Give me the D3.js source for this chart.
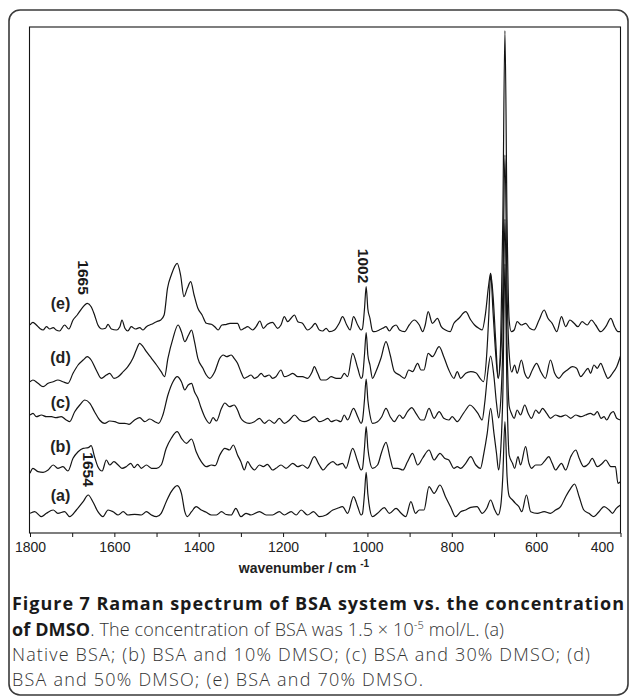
<!DOCTYPE html>
<html>
<head>
<meta charset="utf-8">
<script src="https://cdn.jsdelivr.net/npm/d3@7"></script>
<style>
  html, body { margin: 0; padding: 0; background: #fff; }
  svg { display: block; }
</style>
</head>
<body>
<svg id="fig" width="629" height="696"></svg>
<script>
// Raman spectra of BSA at increasing DMSO content: [wavenumber (cm-1), relative intensity]
const specA = [[1800,2.7],[1789,4.3],[1773,-0.7],[1761,2.7],[1745,6],[1734,2.7],[1718,4.3],[1706,-0.7],[1690,6],[1674,14.3],[1662,21],[1651,14.3],[1639,4.3],[1627,-0.7],[1615,6],[1603,4.3],[1591,1],[1579,4.3],[1568,1],[1552,1.7],[1536,1],[1524,4.3],[1512,1],[1500,-0.7],[1489,2.7],[1477,14.3],[1465,24.3],[1451,30.3],[1441,22.7],[1433,4.3],[1427,-0.7],[1417,4.3],[1406,9.3],[1394,6],[1382,3.7],[1370,1],[1358,1],[1346,4.3],[1335,1.5],[1323,1],[1312,7.7],[1300,-0.7],[1288,2.7],[1276,1],[1256,4.3],[1240,1],[1225,1],[1209,4.3],[1197,1],[1181,4.3],[1169,1],[1157,6],[1142,1],[1128,4.3],[1114,-0.7],[1098,1],[1082,6],[1071,7.7],[1059,9.3],[1047,2.7],[1033,19.3],[1023,9.3],[1015,1],[1012,2],[1007,22],[1003,43.7],[999,22],[994,6],[988,-0.7],[976,2.7],[960,8.3],[948,2.7],[932,7.7],[920,2.7],[909,-0.7],[897,14.3],[886,2.7],[877,6],[866,6],[854,29.3],[842,22.7],[828,31],[815,19.3],[803,9.3],[791,-0.7],[779,4.3],[767,6],[755,8.7],[740,9.3],[728,2.7],[717,7.7],[708,16],[698,6],[690,1],[684,10],[679,40],[674,94.3],[669,40],[664,20],[656,16],[649,12.7],[641,9.3],[634,4.3],[623,21],[613,4.3],[597,2.7],[581,4.3],[566,2.7],[554,6],[542,9.3],[530,19.3],[518,27.7],[509,32],[498,19.3],[487,6],[475,2.7],[463,-0.7],[451,4.3],[439,9.3],[427,6],[419,2.7],[410,7.7],[400,11]];

const specB = [[1800,-3.3],[1793,1.7],[1781,-1.7],[1769,-2.3],[1757,0],[1745,5],[1734,1.7],[1722,3.3],[1710,-1],[1698,11.7],[1686,18.3],[1674,21.7],[1662,22.3],[1655,24.3],[1647,13.3],[1639,3.3],[1629,-1],[1619,10],[1611,5],[1601,8.3],[1591,5],[1582,1.7],[1572,3.3],[1561,6.7],[1553,2.3],[1545,5.7],[1536,1.7],[1524,5],[1512,1.7],[1500,1.7],[1489,5],[1477,21.7],[1465,31.7],[1451,38.3],[1441,31.7],[1429,26.7],[1417,31],[1406,18.3],[1394,8.3],[1382,3.3],[1370,5],[1361,4.3],[1350,15],[1338,21.7],[1327,20],[1318,25],[1308,15],[1300,8.3],[1292,0],[1284,8.3],[1276,3.3],[1268,0],[1256,5],[1247,3.3],[1237,5.7],[1225,0],[1217,1.7],[1205,5],[1193,1.7],[1177,6.7],[1165,3.3],[1154,5],[1142,1.7],[1126,13.3],[1114,5],[1105,0],[1094,5],[1082,8.3],[1071,5],[1059,6.7],[1051,1.7],[1035,21.7],[1023,8.3],[1015,0],[1012,1],[1007,22],[1003,43.3],[999,22],[994,8],[988,1.7],[976,5],[966,18.3],[956,27.7],[946,11.7],[939,1.7],[928,1.7],[916,0],[905,8.3],[893,16.7],[881,5],[869,12],[854,20],[842,10],[828,16.7],[817,11.7],[807,10],[795,1.7],[787,3.3],[779,1.7],[767,6.7],[755,13.3],[743,5],[732,1.7],[724,16.7],[716,36.7],[708,61.7],[700,36.7],[694,16.7],[689,0],[684,20],[679,75],[674,206],[669,75],[664,15],[656,6.7],[651,1.7],[643,13.3],[637,5],[625,23.3],[617,6.7],[611,1.7],[601,5],[589,5],[581,8.3],[570,13.3],[562,6.7],[554,0],[540,6.7],[530,0],[518,13.3],[506,20],[498,11.7],[487,3.3],[475,6.7],[467,11.7],[455,3.3],[443,6.7],[435,10],[423,3.3],[412,3.3],[406,-13.3],[400,-11.7]];

const specC = [[1800,6],[1793,7.7],[1785,4.3],[1773,6],[1761,4.3],[1749,4.3],[1738,3.3],[1726,4.3],[1714,1],[1706,-0.7],[1694,9.3],[1682,16],[1670,21],[1658,17.7],[1647,9.3],[1635,1],[1623,-2.3],[1611,0],[1599,-0.7],[1587,-2.3],[1575,-2.3],[1565,-3.3],[1552,1],[1540,3.3],[1528,-0.7],[1516,2],[1504,-0.7],[1495,-2.3],[1485,6],[1473,26],[1461,39.3],[1451,44.3],[1441,39.3],[1433,31],[1425,36],[1417,37.7],[1410,29.3],[1402,22.7],[1394,12.7],[1386,4.3],[1374,-2.3],[1366,3.3],[1358,0],[1346,12.7],[1338,18],[1327,14.3],[1316,16],[1308,11],[1300,2.7],[1292,-0.7],[1280,-2.3],[1268,-0.7],[1256,2.7],[1244,-2.3],[1233,1],[1221,-2.3],[1209,2.7],[1197,-2.3],[1185,1],[1173,6],[1161,1],[1150,-0.7],[1138,1],[1126,4.3],[1114,-0.7],[1102,1],[1094,2.7],[1086,-0.7],[1074,1],[1063,-0.7],[1055,6],[1047,1],[1033,12.7],[1023,4.3],[1015,-2.3],[1012,0],[1007,21],[1003,42],[999,21],[994,6],[988,-2.3],[976,-0.7],[966,4.3],[956,12.7],[946,4.3],[936,-0.7],[924,6],[916,2.7],[905,9.3],[895,13.3],[885,7.7],[873,1],[866,1],[854,12.7],[842,2.7],[830,9.3],[819,2.7],[807,1],[799,4.3],[787,-0.7],[775,6],[767,11],[757,16],[747,12.7],[738,7.7],[728,1],[722,17.7],[714,51],[708,65],[700,44.3],[694,17.7],[689,3],[684,20],[679,75],[674,201.7],[669,75],[664,15],[659,8],[652,2.7],[645,11],[637,6],[627,16],[619,7.7],[611,2.7],[601,11],[593,7.7],[585,12.7],[575,7.7],[566,2.7],[554,6],[542,4.3],[530,6],[518,2.7],[506,6],[494,4.3],[483,6],[471,7.7],[463,6],[455,9.3],[446,2.7],[439,4.3],[433,1],[423,7.7],[417,9.3],[409,2.7],[400,1]];

const specD = [[1800,-1.7],[1793,0],[1781,-3.3],[1769,-6.7],[1757,-3.3],[1745,-1.7],[1734,0],[1722,-1.7],[1710,-3.3],[1698,6.7],[1686,15],[1674,20],[1664,23.3],[1655,20],[1643,10],[1631,1.7],[1619,5],[1611,6.7],[1601,1.7],[1591,3.3],[1579,8.3],[1568,13.3],[1556,21.7],[1548,30],[1540,36.7],[1532,33.3],[1524,28.3],[1512,21.7],[1500,15],[1489,8.3],[1481,3.3],[1473,21.7],[1461,41.7],[1449,55],[1441,48.3],[1433,38.3],[1424,45],[1417,50],[1410,38.3],[1402,21.7],[1390,11.7],[1382,5],[1374,1.7],[1362,8.3],[1350,21.7],[1342,25],[1334,23.3],[1323,25],[1316,21.7],[1308,16.7],[1300,8.3],[1292,1.7],[1284,3.3],[1276,5],[1268,1.7],[1260,3.3],[1252,6.7],[1244,3.3],[1233,5],[1225,1.7],[1217,3.3],[1205,10],[1197,3.3],[1185,5],[1177,6.7],[1165,3.3],[1154,3.3],[1142,1.7],[1131,8.3],[1126,13.3],[1118,6.7],[1110,0],[1098,0],[1086,3.3],[1074,1.7],[1063,1.7],[1055,6.7],[1047,3.3],[1035,26.7],[1023,11.7],[1015,1.7],[1012,3],[1007,25],[1003,47.3],[999,25],[994,15],[988,1.7],[980,8.3],[968,21.7],[956,38.3],[946,25],[936,8.3],[924,5],[912,1.7],[902,10],[893,8.3],[881,16.7],[873,10],[866,10],[856,26.7],[846,23.3],[830,33.3],[819,23.3],[807,10],[795,1.7],[787,8.3],[779,1.7],[767,6.7],[755,8.3],[743,7.3],[733,1.7],[725,-1.7],[717,26.7],[712,66.7],[708,106.7],[702,66.7],[696,26.7],[690,1.7],[684,25],[679,90],[674,225],[669,90],[664,27],[658,8],[651,15],[645,6.7],[635,20],[627,6.7],[619,1.7],[609,10],[599,16.7],[589,8.3],[578,1.7],[566,20],[556,6.7],[546,1.7],[536,6.7],[526,10],[514,13.3],[504,11.7],[494,3.3],[487,6.7],[477,11.7],[471,6.7],[463,15],[455,11.7],[447,16.7],[438,8.3],[430,1.7],[419,6.7],[409,13.3],[400,24]];

const specE = [[1800,6],[1793,8.7],[1785,6],[1777,2.7],[1769,1],[1761,4.3],[1753,2],[1745,3.3],[1738,1],[1730,0],[1718,6],[1708,2],[1698,11],[1688,16],[1677,22.7],[1664,27.7],[1655,24.3],[1647,16],[1639,6],[1629,2],[1621,2.7],[1615,6.7],[1607,2],[1595,1],[1587,4.3],[1582,11],[1575,2.7],[1568,0],[1560,4.3],[1550,2],[1540,3.3],[1532,1],[1524,4.3],[1512,6.7],[1500,9.3],[1490,11],[1482,16],[1474,42.7],[1465,56],[1451,67.7],[1443,56],[1435,34.3],[1427,42.7],[1419,49.3],[1411,36],[1402,22.7],[1392,16],[1382,7.7],[1370,6.7],[1362,4.3],[1354,1],[1345,6],[1334,6.7],[1326,7.7],[1316,7.7],[1308,7.7],[1300,1],[1292,2.7],[1284,4.3],[1272,1],[1264,4.3],[1255,10],[1247,2.7],[1237,6.7],[1225,8.7],[1213,2.7],[1205,6],[1197,14.3],[1189,9.3],[1181,12.7],[1173,16],[1165,9.3],[1154,7.7],[1142,1],[1131,4.3],[1124,7.7],[1114,1],[1106,0],[1098,2.7],[1090,-0.7],[1078,1],[1067,7.7],[1059,14.3],[1049,6],[1041,1],[1033,14.3],[1023,6],[1015,1],[1012,2],[1007,22],[1003,44.3],[999,22],[994,12.7],[988,0],[984,-0.7],[972,1],[964,2.7],[956,4.3],[948,0],[940,4.3],[932,6],[924,1],[912,-0.7],[901,6],[889,11],[877,6],[869,-0.7],[863,6],[856,19.3],[846,7.7],[834,12.7],[825,4.3],[815,1],[804,-0.7],[795,7.7],[783,12.7],[767,19.3],[755,11],[746,6],[736,2.7],[728,1],[720,17.7],[713,44.3],[708,57.7],[702,34.3],[696,-9],[690,-47],[684,-10],[679,111],[674,300.3],[669,111],[664,11],[659,-0.7],[652,1],[645,9.3],[635,6],[625,7.7],[615,2.7],[605,1],[593,11],[581,21],[572,12.7],[562,7.7],[551,-0.7],[540,14.3],[530,4.3],[520,11],[510,7.7],[501,4.3],[491,9.3],[479,6],[469,11],[459,6],[447,-0.7],[435,4.3],[423,12.7],[414,4.3],[406,-0.7],[400,-0.7]];

// Stacking: each spectrum is lifted by its own offset (same intensity units)
const seriesNames = ["(a)", "(b)", "(c)", "(d)", "(e)"];
const seriesData = [specA, specB, specC, specD, specE];
const seriesOffsets = [17, 63, 112, 153, 202];

// Axis
const xDomain = [1800, 400];
const xTicks = [1800, 1700, 1600, 1500, 1400, 1300, 1200, 1100, 1000, 900, 800, 700, 600, 500, 400];
const xTickLabels = [1800, 1600, 1400, 1200, 1000, 800, 600, 400];
const yDomain = [0, 506];

// Band assignments written on the plot
const bandNotes = [
  { text: "1665", wn: 1665, series: 4 },
  { text: "1654", wn: 1654, series: 0 },
  { text: "1002", wn: 1002, series: 4 }
];

// ---- layout ----
const plot = { left: 30, right: 620.5, top: 27, bottom: 533 };
const svg = d3.select("#fig");
const ink = "#141414";
const axisFont = "'Liberation Sans', Arial, sans-serif";

// rounded figure panel
svg.append("rect")
  .attr("x", 9).attr("y", 10).attr("width", 619).attr("height", 685)
  .attr("rx", 11).attr("ry", 11)
  .attr("fill", "none").attr("stroke", "#3a3a3a").attr("stroke-width", 1.6);

const x = d3.scaleLinear().domain(xDomain).range([plot.left, plot.right]);
const y = d3.scaleLinear().domain(yDomain).range([plot.bottom, plot.top]);

svg.append("defs").append("clipPath").attr("id", "plotClip")
  .append("rect")
  .attr("x", plot.left).attr("y", plot.top)
  .attr("width", plot.right - plot.left).attr("height", plot.bottom - plot.top);

// spectra
const traces = svg.append("g").attr("clip-path", "url(#plotClip)");
seriesData.forEach((data, i) => {
  const off = seriesOffsets[i];
  const pts = data.slice().sort((p, q) => q[0] - p[0]);
  const line = d3.line()
    .x(d => x(d[0]))
    .y(d => y(d[1] + off))
    .curve(d3.curveMonotoneX);
  traces.append("path")
    .attr("d", line(pts))
    .attr("fill", "none")
    .attr("stroke", ink)
    .attr("stroke-width", 1.2)
    .attr("stroke-linejoin", "round");
});

// frame
svg.append("rect")
  .attr("x", plot.left - 0.5).attr("y", plot.top)
  .attr("width", plot.right - plot.left + 0.5).attr("height", plot.bottom - plot.top)
  .attr("fill", "none").attr("stroke", ink).attr("stroke-width", 1.1);

// bottom axis
const xAxis = d3.axisBottom(x)
  .tickValues(xTicks)
  .tickSize(4)
  .tickPadding(5)
  .tickFormat(d => xTickLabels.includes(d) ? String(d) : "");
const gx = svg.append("g")
  .attr("transform", `translate(0,${plot.bottom})`)
  .call(xAxis);
gx.select(".domain").remove();
gx.selectAll(".tick line").attr("stroke", ink).attr("stroke-width", 1);
gx.selectAll(".tick text")
  .attr("fill", "#222")
  .style("font-family", axisFont)
  .style("font-size", "14px");
// last label sits inside the right edge
gx.selectAll(".tick text").filter(d => d === xDomain[1])
  .attr("text-anchor", "end").attr("dx", -7);

// axis title
const title = svg.append("text")
  .attr("x", 304).attr("y", 573)
  .attr("text-anchor", "middle")
  .style("font-family", axisFont)
  .style("font-weight", "bold")
  .style("font-size", "14px")
  .attr("fill", "#222");
title.append("tspan").text("wavenumber / cm ");
title.append("tspan").attr("dy", -6).style("font-size", "10px").text("-1");

// series labels
const labelLift = [15, 18, 13, 17, 22];
seriesNames.forEach((name, i) => {
  svg.append("text")
    .attr("x", 60.5)
    .attr("y", y(seriesOffsets[i] + labelLift[i]))
    .attr("text-anchor", "middle")
    .style("font-family", axisFont)
    .style("font-weight", "bold")
    .style("font-size", "16px")
    .attr("fill", "#222")
    .text(name);
});

// band labels, rotated
const noteLift = [53.5, 46.5, 65];
bandNotes.forEach((n, i) => {
  const cx = x(n.wn) - 3.2;
  const cy = y(seriesOffsets[n.series] + noteLift[i]);
  svg.append("text")
    .attr("transform", `translate(${cx},${cy}) rotate(90)`)
    .attr("text-anchor", "middle")
    .attr("dominant-baseline", "central")
    .style("font-family", axisFont)
    .style("font-weight", "bold")
    .style("font-size", "15.5px")
    .attr("fill", "#1a1a1a")
    .text(n.text);
});

// caption
const capFont = "'Open Sans', 'Noto Sans', sans-serif";
const capSize = 18;
const capLines = [
  { y: 610, len: 612, parts: [{ t: "Figure 7 Raman spectrum of BSA system vs. the concentration", b: true }] },
  { y: 636, len: 492, parts: [
      { t: "of DMSO", b: true },
      { t: ". The concentration of BSA was 1.5 \u00d7 10" },
      { t: "-5", sup: true },
      { t: " mol/L. (a)" }] },
  { y: 661, len: 578, parts: [{ t: "Native BSA; (b) BSA and 10% DMSO; (c) BSA and 30% DMSO; (d)" }] },
  { y: 686, len: 411, parts: [{ t: "BSA and 50% DMSO; (e) BSA and 70% DMSO." }] }
];
capLines.forEach(line => {
  const t = svg.append("text")
    .attr("x", 12).attr("y", line.y)
    .attr("textLength", line.len)
    .attr("lengthAdjust", "spacing")
    .style("font-family", capFont)
    .style("font-size", capSize + "px");
  let raised = false;
  line.parts.forEach(p => {
    const ts = t.append("tspan").text(p.t);
    if (p.b) { ts.style("font-weight", 700).attr("fill", "#1a1a1a"); }
    else { ts.style("font-weight", 300).attr("fill", "#333"); }
    if (p.sup) { ts.attr("dy", -7).style("font-size", "11px"); raised = true; }
    else if (raised) { ts.attr("dy", 7); raised = false; }
  });
});
</script>
</body>
</html>
